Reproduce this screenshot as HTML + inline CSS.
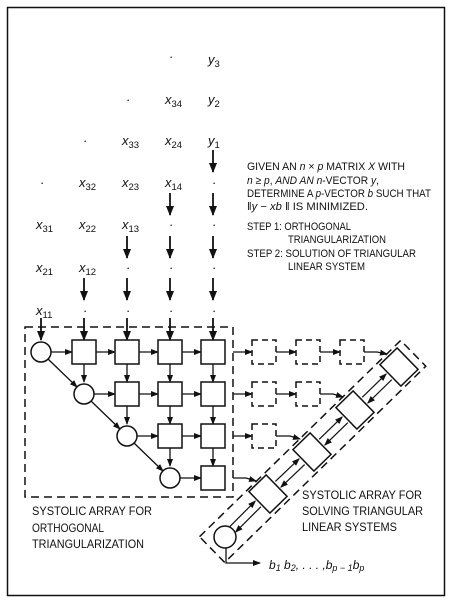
<!DOCTYPE html>
<html><head><meta charset="utf-8"><style>
html,body{margin:0;padding:0;background:#fff;}
svg{display:block;font-family:"Liberation Sans",sans-serif;}
.t{font-size:11px;fill:#111;}
.s{font-size:12px;fill:#111;}
</style></head><body>
<svg id="fig" width="451" height="604" viewBox="0 0 451 604">
<defs><marker id="ah" markerWidth="8" markerHeight="8" refX="7" refY="4" orient="auto" markerUnits="userSpaceOnUse"><path d="M0,1 L8,4 L0,7 Z" fill="#111"/></marker>
<marker id="ab" markerWidth="10" markerHeight="10" refX="9" refY="5" orient="auto" markerUnits="userSpaceOnUse"><path d="M0,1 L10,5 L0,9 Z" fill="#111"/></marker></defs>
<rect x="7.5" y="7.5" width="437" height="588" fill="none" stroke="#111" stroke-width="1.5"/>
<g id="inputs"></g>
<g id="arr"></g>
<g id="tri"></g>
<g class="t">
<text x="247" y="170" textLength="158" lengthAdjust="spacingAndGlyphs">GIVEN AN <tspan font-style="italic">n</tspan> × <tspan font-style="italic">p</tspan> MATRIX <tspan font-style="italic">X</tspan> WITH</text>
<text x="247" y="184" textLength="132" lengthAdjust="spacingAndGlyphs"><tspan font-style="italic">n</tspan> ≥ <tspan font-style="italic">p</tspan>, <tspan font-style="italic">AND AN n</tspan>-VECTOR <tspan font-style="italic">y</tspan>,</text>
<text x="247" y="197" textLength="184" lengthAdjust="spacingAndGlyphs">DETERMINE A <tspan font-style="italic">p</tspan>-VECTOR <tspan font-style="italic">b</tspan> SUCH THAT</text>
<text x="247" y="210" textLength="121" lengthAdjust="spacingAndGlyphs">‖<tspan font-style="italic">y</tspan> − <tspan font-style="italic">xb</tspan> ‖ IS MINIMIZED.</text>
<text x="247" y="230" textLength="104" lengthAdjust="spacingAndGlyphs">STEP 1: ORTHOGONAL</text>
<text x="288" y="243" textLength="98" lengthAdjust="spacingAndGlyphs">TRIANGULARIZATION</text>
<text x="247" y="257" textLength="169" lengthAdjust="spacingAndGlyphs">STEP 2: SOLUTION OF TRIANGULAR</text>
<text x="288" y="270" textLength="77" lengthAdjust="spacingAndGlyphs">LINEAR SYSTEM</text>
</g>
<g class="s">
<text x="32" y="515" textLength="120" lengthAdjust="spacingAndGlyphs">SYSTOLIC ARRAY FOR</text>
<text x="32" y="532" textLength="72" lengthAdjust="spacingAndGlyphs">ORTHOGONAL</text>
<text x="32" y="548" textLength="112" lengthAdjust="spacingAndGlyphs">TRIANGULARIZATION</text>
</g>
<g class="s">
<text x="302" y="499" textLength="120" lengthAdjust="spacingAndGlyphs">SYSTOLIC ARRAY FOR</text>
<text x="302" y="515" textLength="121" lengthAdjust="spacingAndGlyphs">SOLVING TRIANGULAR</text>
<text x="302" y="531" textLength="95" lengthAdjust="spacingAndGlyphs">LINEAR SYSTEMS</text>
</g>
<g>
<polyline points="226,548 226,563 260,563" fill="none" stroke="#111" stroke-width="1.3" marker-end="url(#ah)"/>
<text x="269" y="569" class="s" font-style="italic">b<tspan font-size="9" dy="2">1</tspan><tspan dy="-2"> b</tspan><tspan font-size="9" dy="2">2</tspan><tspan dy="-2">, . . . ,b</tspan><tspan font-size="9" dy="2">p − 1</tspan><tspan dy="-2">b</tspan><tspan font-size="9" dy="2">p</tspan></text>
</g>
</svg>
<script>
const NS="http://www.w3.org/2000/svg";
function mk(p,tag,a){const e=document.createElementNS(NS,tag);for(const k in a)e.setAttribute(k,a[k]);p.appendChild(e);return e;}
const colX=[41,84,127,170,213];
const rowY=[352,394,436,478];
const inp=document.getElementById('inputs');
const labels=[[4,60,'y','3'],[3,57,'·',''],[4,100,'y','2'],[3,100,'x','34'],[2,100,'·',''],
[4,141,'y','1'],[3,141,'x','24'],[2,141,'x','33'],[1,141,'·',''],
[4,183,'·',''],[3,183,'x','14'],[2,183,'x','23'],[1,183,'x','32'],[0,183,'·',''],
[4,225,'·',''],[3,225,'·',''],[2,225,'x','13'],[1,225,'x','22'],[0,225,'x','31'],
[4,268,'·',''],[3,268,'·',''],[2,268,'·',''],[1,268,'x','12'],[0,268,'x','21'],
[4,311,'·',''],[3,311,'·',''],[2,311,'·',''],[1,311,'·',''],[0,311,'x','11']];
labels.forEach(l=>{const t=mk(inp,'text',{x:colX[l[0]]-(l[2]==='·'?1:5),y:l[1]+4,'font-size':'13','font-style':'italic',fill:'#111'});


t.textContent=l[2];if(l[3]){const s=mk(t,'tspan',{dy:'3','font-size':'9.5','font-style':'normal'});s.textContent=l[3];}});
const arrows=[[4,150],[4,193],[3,193],[4,236],[3,236],[2,236],[4,278],[3,278],[2,278],[1,278],[4,318],[3,318],[2,318],[1,318],[0,318]];
arrows.forEach(a=>{const e=mk(inp,'line',{x1:colX[a[0]],y1:a[1],x2:colX[a[0]],y2:a[0]===0||a[1]===318?340:a[1]+22,stroke:'#111','stroke-width':'1.8','marker-end':'url(#ab)'});

});
const g=document.getElementById('arr');
const db=mk(g,'rect',{x:25,y:327,width:208,height:170,fill:'none',stroke:'#111','stroke-width':'1.5','stroke-dasharray':'8,5'});


const R=10,H=12;
for(let r=0;r<4;r++){for(let c=r;c<5;c++){const x=colX[c],y=rowY[r];
 if(c<4){const e=mk(g,'line',{x1:x+(c===r?R:H),y1:y,x2:colX[c+1]-H,y2:y,stroke:'#111','stroke-width':'1.3','marker-end':'url(#ah)'});}
 if(r<3&&c>r){const e=mk(g,'line',{x1:x,y1:y+H,x2:x,y2:rowY[r+1]-H,stroke:'#111','stroke-width':'1.3','marker-end':'url(#ah)'});}
 if(r<3&&c===r){const e=mk(g,'line',{x1:x+7,y1:y+7,x2:colX[c+1]-7,y2:rowY[r+1]-7,stroke:'#111','stroke-width':'1.3','marker-end':'url(#ah)'});}
 let e;if(c===r)e=mk(g,'circle',{cx:x,cy:y,r:R,fill:'#fff',stroke:'#111','stroke-width':'1.5'});
 else e=mk(g,'rect',{x:x-H,y:y-H,width:2*H,height:2*H,fill:'#fff',stroke:'#111','stroke-width':'1.5'});
 
 }}
const dX=[264,308,352];const dCount=[3,2,1,0];
const triC=[[399,367],[355,410],[312,452],[268,494]];
const tg=document.getElementById('tri');
for(let r=0;r<4;r++){const y=rowY[r];let px=233;
 for(let k=0;k<dCount[r];k++){const x=dX[k];
  const a=mk(tg,'line',{x1:px+(k?12:0),y1:y,x2:x-12,y2:y,stroke:'#111','stroke-width':'1.3','marker-end':'url(#ah)'});
  const e=mk(tg,'rect',{x:x-12,y:y-12,width:24,height:24,fill:'none',stroke:'#111','stroke-width':'1.5','stroke-dasharray':'6,4'});px=x;}
 const sx=dCount[r]?px+12:233;const t=triC[r];
 const a=mk(tg,'polyline',{points:`${sx},${y} ${t[0]-22},${y} ${t[0]-12},${t[1]-13}`,fill:'none',stroke:'#111','stroke-width':'1.3','marker-end':'url(#ah)'});}
const cx0=225,cy0=537;
const box=mk(tg,'rect',{x:-18,y:-18,width:281,height:36,fill:'none',stroke:'#111','stroke-width':'1.5','stroke-dasharray':'8,5',transform:`translate(${cx0},${cy0}) rotate(-44.3)`});

const pts=[[cx0,cy0]].concat(triC.slice().reverse());
for(let i=0;i<pts.length-1;i++){const [x1,y1]=pts[i],[x2,y2]=pts[i+1];const dx=x2-x1,dy=y2-y1,L=Math.hypot(dx,dy),ux=dx/L,uy=dy/L,nx=-uy*4,ny=ux*4;const s=i===0?11:14,e=14;
 const l1=mk(tg,'line',{x1:x2-ux*e+nx,y1:y2-uy*e+ny,x2:x1+ux*s+nx,y2:y1+uy*s+ny,stroke:'#111','stroke-width':'1.2','marker-end':'url(#ah)'});
 const l2=mk(tg,'line',{x1:x1+ux*s-nx,y1:y1+uy*s-ny,x2:x2-ux*e-nx,y2:y2-uy*e-ny,stroke:'#111','stroke-width':'1.2','marker-end':'url(#ah)'});}
triC.forEach(t=>{const e=mk(tg,'rect',{x:-12,y:-15,width:24,height:30,fill:'#fff',stroke:'#111','stroke-width':'1.5',transform:`translate(${t[0]},${t[1]}) rotate(-44.3)`});
 });
const oc=mk(tg,'circle',{cx:cx0,cy:cy0,r:11,fill:'#fff',stroke:'#111','stroke-width':'1.5'});

</script>
</body></html>
